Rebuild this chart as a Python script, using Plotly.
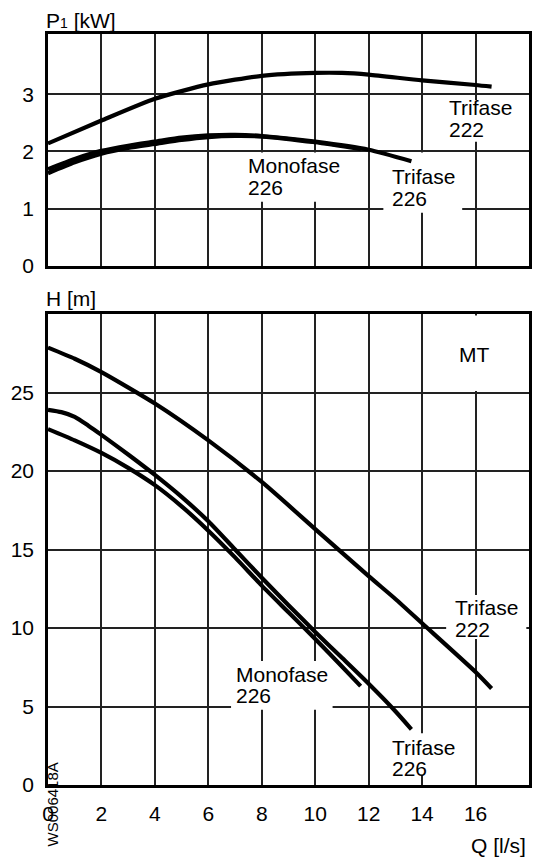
import plotly.graph_objects as go

# ---- data: power input P1 [kW] versus flow Q [l/s] ----
q_p_t222 = [0, 2, 4, 6, 8, 10, 11, 12, 14, 16, 16.6]
p_t222 = [2.14, 2.54, 2.92, 3.17, 3.32, 3.37, 3.37, 3.34, 3.24, 3.16, 3.13]

q_p_t226 = [0, 1, 2, 3, 4, 5, 6, 7, 8, 10, 12, 13.6]
p_t226 = [1.69, 1.87, 2.01, 2.10, 2.17, 2.24, 2.28, 2.29, 2.27, 2.17, 2.03, 1.83]

q_p_m226 = [0, 1, 2, 3, 4, 5, 6, 7, 8, 10, 11.7]
p_m226 = [1.62, 1.81, 1.96, 2.06, 2.13, 2.20, 2.25, 2.27, 2.26, 2.16, 2.04]

# ---- data: head H [m] versus flow Q [l/s] ----
q_h_t222 = [0, 1, 2, 4, 6, 8, 10, 12, 13, 14, 16, 16.6]
h_t222 = [27.86, 27.15, 26.3, 24.3, 21.95, 19.3, 16.3, 13.3, 11.85, 10.3, 7.2, 6.15]

q_h_t226 = [0, 0.5, 1, 1.5, 2, 3, 4, 5, 6, 7, 8, 9, 10, 11, 12, 13, 13.6]
h_t226 = [23.9, 23.75, 23.45, 22.9, 22.3, 21.05, 19.75, 18.35, 16.8, 15.0, 13.2,
          11.45, 9.75, 8.1, 6.45, 4.7, 3.55]

q_h_m226 = [0, 1, 2, 3, 4, 5, 6, 7, 8, 9, 10, 11, 11.7]
h_m226 = [22.67, 21.95, 21.15, 20.2, 19.1, 17.75, 16.2, 14.5, 12.7, 11.0, 9.3, 7.55, 6.3]

# axis ticks
q_ticks = [0, 2, 4, 6, 8, 10, 12, 14, 16]
q_grid = [0, 2, 4, 6, 8, 10, 12, 14, 16, 18]
p_ticks = [0, 1, 2, 3]
h_ticks = [0, 5, 10, 15, 20, 25]

# ---- page geometry ----
W, H = 543, 859
L, R, T, B = 47, 11, 34, 74
PW, PH = W - L - R, H - T - B


def px_x(px):
    return (px - L) / PW


def px_y(py):
    return (H - B - py) / PH


FONT = "Arial, Liberation Sans, sans-serif"
FS = 21
INK = "#000000"
GRID = "#222222"

fig = go.Figure()


def curve(q, v, xa, ya):
    fig.add_trace(go.Scatter(
        x=q, y=v, mode="lines", xaxis=xa, yaxis=ya,
        line=dict(color=INK, width=4.2, shape="spline", smoothing=0.6),
        showlegend=False, hoverinfo="skip"))


curve(q_p_t222, p_t222, "x", "y")
curve(q_p_t226, p_t226, "x", "y")
curve(q_p_m226, p_m226, "x", "y")
curve(q_h_t222, h_t222, "x2", "y2")
curve(q_h_t226, h_t226, "x2", "y2")
curve(q_h_m226, h_m226, "x2", "y2")


def label(lines, x, y, xr, yr, box):
    # white box interrupting the grid behind the curve label
    x0, x1, y0, y1 = box
    fig.add_shape(type="rect", xref=xr, yref=yr, x0=x0, x1=x1, y0=y0, y1=y1,
                  fillcolor="white", line=dict(width=0), layer="between")
    for i, t in enumerate(lines):
        fig.add_annotation(text=t, x=x, y=y, xref=xr, yref=yr, xanchor="left",
                           yanchor="middle", yshift=-21.5 * i, showarrow=False,
                           borderpad=0, font=dict(family=FONT, size=FS, color=INK))


# power panel labels
label(["Trifase", "222"], 14.95, 2.76, "x", "y", (14.85, 17.6, 2.17, 2.9))
label(["Monofase", "226"], 7.43, 1.75, "x", "y", (7.35, 11.1, 1.12, 1.98))
label(["Trifase", "226"], 12.83, 1.56, "x", "y", (12.55, 15.5, 0.93, 1.98))

# head panel labels
label(["MT"], 15.35, 27.4, "x2", "y2", (15.0, 17.6, 25.1, 29.9))
label(["Trifase", "222"], 15.2, 11.3, "x2", "y2", (14.9, 17.9, 9.3, 12.1))
label(["Monofase", "226"], 6.98, 7.04, "x2", "y2", (6.85, 10.65, 4.8, 7.9))
label(["Trifase", "226"], 12.82, 2.39, "x2", "y2", (12.75, 15.4, 0.6, 3.3))

# axis titles and drawing code
fig.add_annotation(text="P<span style='font-size:14px'>1</span> [kW]",
                   x=px_x(44), y=px_y(20), xref="paper", yref="paper",
                   xanchor="left", yanchor="middle", showarrow=False, borderpad=0,
                   font=dict(family=FONT, size=FS, color=INK))
fig.add_annotation(text="H [m]", x=px_x(44), y=px_y(298), xref="paper", yref="paper",
                   xanchor="left", yanchor="middle", showarrow=False, borderpad=0,
                   font=dict(family=FONT, size=FS, color=INK))
fig.add_annotation(text="Q [l/s]", x=px_x(530), y=px_y(845), xref="paper", yref="paper",
                   xanchor="right", yanchor="middle", showarrow=False, borderpad=0,
                   font=dict(family=FONT, size=FS, color=INK))
fig.add_annotation(text="WS006418A", x=px_x(51.5), y=px_y(804), xref="paper", yref="paper",
                   xanchor="center", yanchor="middle", textangle=-90, showarrow=False,
                   font=dict(family=FONT, size=15, color=INK))

top_lo = px_y(266)
bot_hi = px_y(314)

common = dict(showgrid=True, gridcolor=GRID, gridwidth=1.8, zeroline=False,
              showline=True, mirror=True, linecolor=INK, linewidth=2.5,
              ticks="", tickfont=dict(family=FONT, size=FS, color=INK),
              fixedrange=True)

fig.update_layout(
    width=W, height=H,
    margin=dict(l=L, r=R, t=T, b=B),
    paper_bgcolor="white", plot_bgcolor="white",
    showlegend=False,
    xaxis=dict(domain=[0, 1], range=[0, 18], anchor="y", tickvals=q_grid,
               showticklabels=False, **common),
    yaxis=dict(domain=[top_lo, 1], range=[0, 4.05], anchor="x", tickvals=p_ticks,
               ticklabelstandoff=7, **common),
    xaxis2=dict(domain=[0, 1], range=[0, 18], anchor="y2", tickvals=q_ticks,
                ticklabelstandoff=8, **common),
    yaxis2=dict(domain=[0, bot_hi], range=[0, 30], anchor="x2", tickvals=h_ticks,
                ticklabelstandoff=7, **common),
)

fig.write_html("out.html")
